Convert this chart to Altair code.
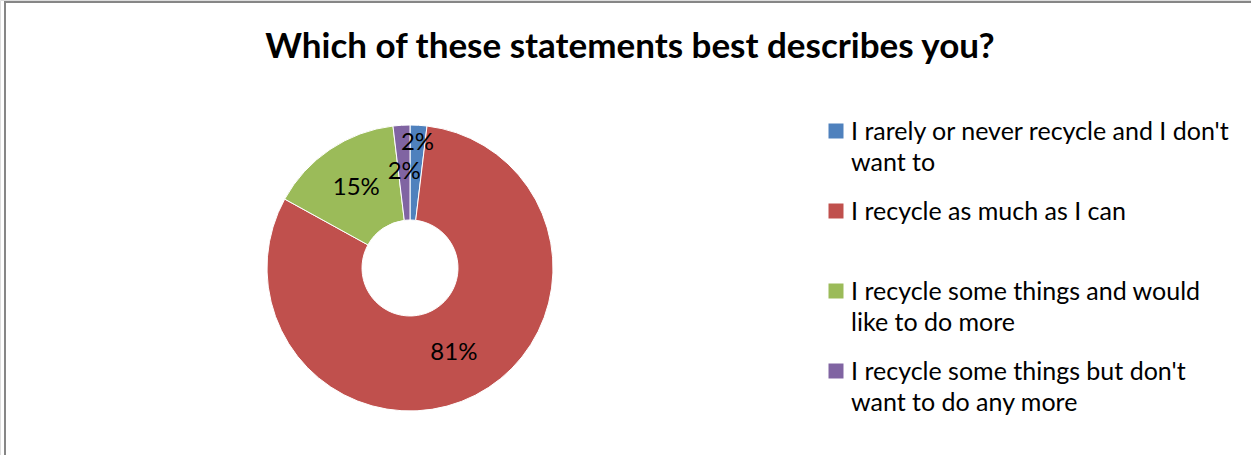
import altair as alt
import pandas as pd

TITLE = "Which of these statements best describes you?"
CATEGORIES = [
    "I rarely or never recycle and I don't want to",
    "I recycle as much as I can",
    "I recycle some things and would like to do more",
    "I recycle some things but don't want to do any more",
]
LEGEND_LINES = [
    ["I rarely or never recycle and I don't", "want to"],
    ["I recycle as much as I can"],
    ["I recycle some things and would", "like to do more"],
    ["I recycle some things but don't", "want to do any more"],
]
VALUES = [1.9, 81.1, 15.1, 1.9]
LABELS = ["2%", "81%", "15%", "2%"]
COLORS = ["#4F81BD", "#C0504D", "#9BBB59", "#8064A2"]

FONT = "Lato"

df = pd.DataFrame({
    "cat": CATEGORIES,
    "value": VALUES,
    "label": LABELS,
    "legend": ["\n".join(l) for l in LEGEND_LINES],
    "idx": list(range(len(CATEGORIES))),
})

TOTAL = sum(VALUES)
theta_scale = alt.Scale(domain=[0, TOTAL])
color = alt.Color("cat:N", scale=alt.Scale(domain=CATEGORIES, range=COLORS), legend=None)
order = alt.Order("idx:Q", sort="ascending")
cx, cy = 410, 268

base = alt.Chart(df)

arcs = base.mark_arc(outerRadius=143, innerRadius=48, stroke="white", strokeWidth=1).encode(
    theta=alt.Theta("value:Q", stack=True, scale=theta_scale), color=color, order=order,
    x=alt.value(cx), y=alt.value(cy),
)

labels = base.transform_window(
    cum="sum(value)", sort=[alt.SortField("idx", order="ascending")], frame=[None, 0]
).transform_calculate(
    mid="datum.cum - datum.value / 2",
    lr="datum.idx == 0 ? 125 : 96",
).mark_text(font=FONT, fontSize=24, color="black", align="center", baseline="middle").encode(
    theta=alt.Theta("mid:Q", stack=None, scale=theta_scale),
    radius=alt.Radius("lr:Q", scale=None),
    text="label:N",
    x=alt.value(cx), y=alt.value(cy),
)

yscale = alt.Scale(domain=CATEGORIES, range=[120, 360], type="point", padding=0)

leg_sq = base.mark_square(size=225, opacity=1, yOffset=11).encode(
    x=alt.value(836),
    y=alt.Y("cat:N", scale=yscale, axis=None),
    color=color,
)
leg_tx = base.mark_text(font=FONT, fontSize=25, align="left", baseline="top",
                        lineBreak="\n", lineHeight=31, color="black").encode(
    x=alt.value(851),
    y=alt.Y("cat:N", scale=yscale, axis=None),
    text="legend:N",
)

title = alt.Chart(alt.Data(values=[{"t": TITLE}])).mark_text(
    font=FONT, fontSize=35, fontWeight="bold", align="center", baseline="middle", color="black"
).encode(x=alt.value(630), y=alt.value(47), text="t:N")

frame_v = alt.Chart(alt.Data(values=[{}])).mark_rule(color="#868686", strokeWidth=2).encode(
    x=alt.value(5), y=alt.value(1), y2=alt.value(461))
frame_h = alt.Chart(alt.Data(values=[{}])).mark_rule(color="#868686", strokeWidth=2).encode(
    x=alt.value(4), x2=alt.value(1251), y=alt.value(2))

chart = alt.layer(frame_v, frame_h, arcs, labels, leg_sq, leg_tx, title).properties(
    width=1251, height=455, autosize="none", padding=0,
).configure_view(stroke=None).configure(background="white")

chart.save("out.html", embed_options={"renderer": "svg", "actions": False})
